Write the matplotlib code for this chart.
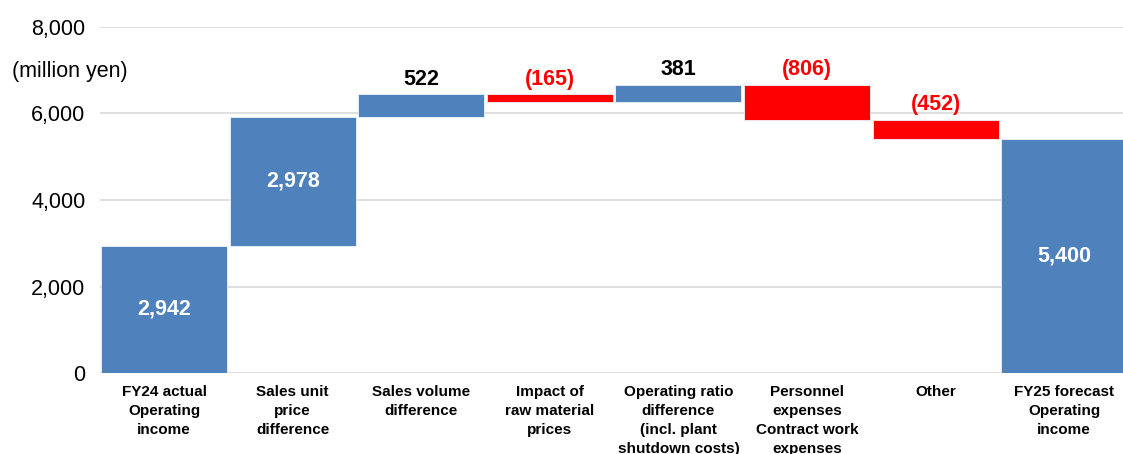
import numpy as np
import matplotlib.pyplot as plt

plt.rcParams['font.family'] = ['Liberation Sans', 'DejaVu Sans']

# Data (million yen)
categories = ['FY24 actual\nOperating\nincome',
              'Sales unit\nprice\ndifference',
              'Sales volume\ndifference',
              'Impact of\nraw material\nprices',
              'Operating ratio\ndifference\n(incl. plant\nshutdown costs)',
              'Personnel\nexpenses\nContract work\nexpenses',
              'Other',
              'FY25 forecast\nOperating\nincome']
changes = [2942, 2978, 522, -165, 381, -806, -452, 5400]
is_total = [True, False, False, False, False, False, False, True]
value_labels = ['2,942', '2,978', '522', '(165)', '381', '(806)', '(452)', '5,400']
inside_label = [True, True, False, False, False, False, False, True]

blue = '#4F81BD'
red = '#FF0000'

# Waterfall bottoms
bottoms = []
heights = []
running = 0
for v, tot in zip(changes, is_total):
    if tot:
        bottoms.append(0)
        heights.append(v)
        running = v
    else:
        if v >= 0:
            bottoms.append(running)
        else:
            bottoms.append(running + v)
        heights.append(abs(v))
        running += v

colors = [blue if v >= 0 else red for v in changes]
x = np.arange(len(categories))

fig = plt.figure(figsize=(11.23, 4.54), dpi=100)
ax = fig.add_axes([100 / 1123, 81 / 454, 1023 / 1123, 346 / 454])

ax.bar(x, heights, bottom=bottoms, width=0.98, color=colors,
       edgecolor='#EEF3FA', linewidth=0.6, zorder=3)

for i in range(len(x)):
    if inside_label[i]:
        ax.text(x[i], bottoms[i] + heights[i] / 2, value_labels[i],
                ha='center', va='center', color='white',
                fontsize=15.5, fontweight='bold', zorder=4)
    else:
        ax.annotate(value_labels[i], (x[i], bottoms[i] + heights[i]),
                    xytext=(0, 3.5), textcoords='offset points',
                    ha='center', va='bottom',
                    color='black' if changes[i] >= 0 else red,
                    fontsize=15.5, fontweight='bold', zorder=4)

ax.set_ylim(0, 8000)
ax.set_xlim(-0.498, 7.457)
ax.set_yticks([0, 2000, 4000, 6000, 8000])
ax.set_yticklabels(['0', '2,000', '4,000', '6,000', '8,000'], fontsize=15.5)
ax.set_xticks(x)
ax.set_xticklabels(categories, fontsize=11, fontweight='bold', linespacing=1.45)
ax.tick_params(axis='both', length=0)
ax.tick_params(axis='y', pad=10.5)
ax.tick_params(axis='x', pad=8.5)
ax.yaxis.grid(True, color='#D9D9D9', linewidth=1.2, zorder=0)
ax.set_axisbelow(True)
for s in ax.spines.values():
    s.set_visible(False)

fig.text(12 / 1123, 1 - 71 / 454, '(million yen)', fontsize=15.5, va='center', ha='left')

fig.savefig('out.png', dpi=100)
